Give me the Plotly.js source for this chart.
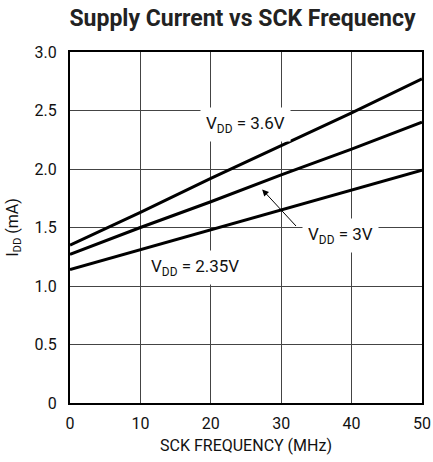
<!DOCTYPE html>
<html>
<head>
<meta charset="utf-8">
<script src="https://cdn.plot.ly/plotly-3.0.1.min.js"></script>
<style>html,body{margin:0;padding:0;background:#fff;}#chart{width:433px;height:462px;}</style>
</head>
<body>
<div id="chart"></div>
<script>
const freqMHz = [0, 10, 20, 30, 40, 50];
const idd36 = [1.35, 1.63, 1.92, 2.20, 2.48, 2.77];
const idd30 = [1.27, 1.50, 1.72, 1.95, 2.17, 2.40];
const idd235 = [1.14, 1.31, 1.48, 1.65, 1.82, 1.99];
const xTickVals = [0, 10, 20, 30, 40, 50];
const xTickText = ['0', '10', '20', '30', '40', '50'];
const yTickVals = [0, 0.5, 1.0, 1.5, 2.0, 2.5, 3.0];
const yTickText = ['0', '0.5', '1.0', '1.5', '2.0', '2.5', '3.0'];
const seriesNames = ['V<sub>DD</sub> = 3.6V', 'V<sub>DD</sub> = 3V', 'V<sub>DD</sub> = 2.35V'];

const FONT = 'Roboto, "Liberation Sans", Arial, sans-serif';
const lineStyle = {color: '#000', width: 3};
const traces = [idd36, idd30, idd235].map((ys, i) => ({
  x: freqMHz, y: ys, type: 'scatter', mode: 'lines', name: seriesNames[i],
  line: lineStyle, hoverinfo: 'skip'
}));

const layout = {
  width: 433, height: 462,
  margin: {l: 70, r: 11, t: 52, b: 59},
  paper_bgcolor: '#fff', plot_bgcolor: '#fff',
  showlegend: false,
  font: {family: FONT, size: 16, color: '#111'},
  title: {text: '<b>Supply Current vs SCK Frequency</b>', font: {family: FONT, size: 23, color: '#222'},
          x: 0.56, xanchor: 'center', y: 0.962, yanchor: 'middle', xref: 'container', yref: 'container'},
  xaxis: {
    range: [0, 50], tickvals: xTickVals, ticktext: xTickText,
    showgrid: true, gridcolor: '#444', gridwidth: 1,
    showline: true, linecolor: '#000', linewidth: 2, mirror: true,
    ticks: '', zeroline: false, ticklabelstandoff: 5,
    title: {text: 'SCK FREQUENCY (MHz)', font: {family: FONT, size: 16}, standoff: 8}
  },
  yaxis: {
    range: [0, 3.0], tickvals: yTickVals, ticktext: yTickText,
    showgrid: true, gridcolor: '#444', gridwidth: 1,
    showline: true, linecolor: '#000', linewidth: 2, mirror: true,
    ticks: '', zeroline: false, ticklabelstandoff: 8,
    title: {text: 'I<sub>DD</sub> (mA)', font: {family: FONT, size: 16}, standoff: 12}
  },
  annotations: [
    {x: 24.9, y: 2.38, xref: 'x', yref: 'y', text: seriesNames[0], showarrow: false,
     bgcolor: '#fff', borderpad: 5, font: {family: FONT, size: 17, color: '#111'}},
    {x: 38.4, y: 1.43, xref: 'x', yref: 'y', text: seriesNames[1], showarrow: false,
     bgcolor: '#fff', borderpad: 5, font: {family: FONT, size: 17, color: '#111'}},
    {x: 17.8, y: 1.16, xref: 'x', yref: 'y', text: seriesNames[2], showarrow: false,
     bgcolor: '#fff', borderpad: 5, font: {family: FONT, size: 17, color: '#111'}},
    {x: 27.3, y: 1.825, xref: 'x', yref: 'y', ax: 32.3, ay: 1.50, axref: 'x', ayref: 'y',
     text: '', showarrow: true, arrowhead: 2, arrowsize: 1.3, arrowwidth: 1, arrowcolor: '#000'}
  ]
};

Plotly.newPlot('chart', traces, layout, {staticPlot: true, displayModeBar: false});
</script>
</body>
</html>
